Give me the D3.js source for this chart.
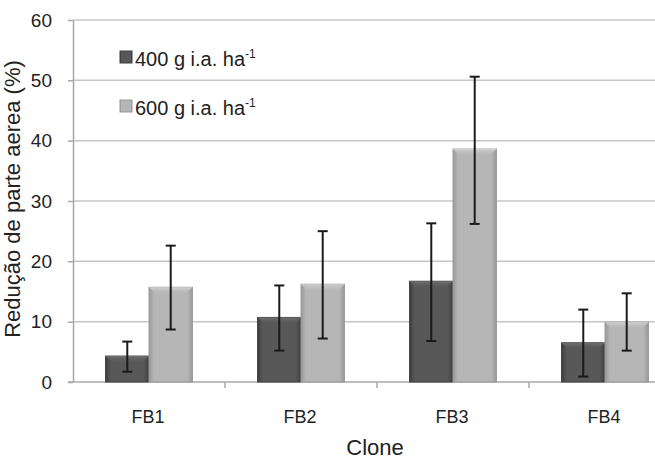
<!DOCTYPE html>
<html lang="pt">
    <head>
        <meta charset="utf-8">
        <title>Redução de parte aérea</title>
        <script src="https://d3js.org/d3.v7.min.js"></script>
        <style type="text/css">
            body { margin: 0; background: #fff; }
            text { font-family: Arial, "Liberation Sans", sans-serif; fill: #222; }
        </style>
    </head>
    <body>
        <script>
            // data
            var clones = ["FB1", "FB2", "FB3", "FB4"];
            var doses = ["400", "600"];
            var doseLabels = ["400 g i.a. ha", "600 g i.a. ha"];
            var mean400 = [4.3, 10.7, 16.7, 6.5];
            var mean600 = [15.7, 16.2, 38.6, 9.9];
            var low400 = [1.7, 5.2, 6.8, 0.9];
            var high400 = [6.7, 16.0, 26.3, 12.0];
            var low600 = [8.7, 7.2, 26.2, 5.2];
            var high600 = [22.6, 25.0, 50.6, 14.7];
            var yTicks = [0, 10, 20, 30, 40, 50, 60];

            // configuration
            var outerWidth = 655;
            var outerHeight = 458;
            var margin = { left: 73, top: 20, right: -26, bottom: 76 };
            var innerWidth = outerWidth - margin.left - margin.right;
            var innerHeight = outerHeight - margin.top - margin.bottom;

            var svg = d3.select("body").append("svg")
                .attr("width", outerWidth)
                .attr("height", outerHeight);

            var defs = svg.append("defs");
            var colors = { "400": ["#3e3e3e", "#585858", "#707070"], "600": ["#999999", "#b6b6b6", "#d2d2d2"] };
            doses.forEach(function (d) {
                var c = colors[d];
                var gh = defs.append("linearGradient").attr("id", "h" + d)
                    .attr("x1", 0).attr("x2", 1).attr("y1", 0).attr("y2", 0);
                gh.append("stop").attr("offset", "0").attr("stop-color", c[0]);
                gh.append("stop").attr("offset", "0.12").attr("stop-color", c[1]);
                gh.append("stop").attr("offset", "0.88").attr("stop-color", c[1]);
                gh.append("stop").attr("offset", "1").attr("stop-color", c[0]);
                var gv = defs.append("linearGradient").attr("id", "v" + d)
                    .attr("x1", 0).attr("x2", 0).attr("y1", 0).attr("y2", 1);
                gv.append("stop").attr("offset", "0").attr("stop-color", c[2]);
                gv.append("stop").attr("offset", "1").attr("stop-color", c[1]).attr("stop-opacity", 0);
            });

            var g = svg.append("g")
                .attr("transform", "translate(" + margin.left + "," + margin.top + ")");

            var xScale = d3.scaleBand().domain(clones).range([0, innerWidth]).padding(0);
            var x1 = d3.scaleBand().domain(doses).range([0, xScale.step()]).paddingInner(0).paddingOuter(0.75);
            var yScale = d3.scaleLinear().domain([0, 60]).range([innerHeight, 0]);

            // gridlines
            g.selectAll(".grid").data(yTicks.slice(1)).enter().append("line")
                .attr("x1", 0).attr("x2", innerWidth)
                .attr("y1", function (d) { return yScale(d); })
                .attr("y2", function (d) { return yScale(d); })
                .attr("stroke", "#c6c6c6").attr("stroke-width", 1.5);

            // y axis
            var yAxis = g.append("g")
                .call(d3.axisLeft(yScale).tickValues(yTicks).tickSize(5).tickSizeOuter(0).tickPadding(16));
            yAxis.select(".domain").attr("stroke", "#a8a8a8").attr("stroke-width", 1.5);
            yAxis.selectAll(".tick line").attr("stroke", "#a8a8a8").attr("stroke-width", 1.5);
            yAxis.selectAll(".tick text").attr("font-size", 19).attr("font-family", "Arial, 'Liberation Sans', sans-serif").attr("fill", "#222");

            // x axis
            var xAxis = g.append("g").attr("transform", "translate(0," + innerHeight + ")");
            xAxis.append("line").attr("x1", -5).attr("x2", innerWidth)
                .attr("stroke", "#a8a8a8").attr("stroke-width", 1.5);
            xAxis.selectAll(".xt").data(clones.slice(1)).enter().append("line")
                .attr("x1", function (d) { return xScale(d); })
                .attr("x2", function (d) { return xScale(d); })
                .attr("y1", 0).attr("y2", 6)
                .attr("stroke", "#a8a8a8").attr("stroke-width", 1.5);
            xAxis.selectAll(".xl").data(clones).enter().append("text")
                .attr("x", function (d) { return xScale(d) + xScale.step() / 2 - 1; })
                .attr("y", 41)
                .attr("text-anchor", "middle")
                .attr("font-size", 18)
                .text(function (d) { return d; });

            // bars
            var rows = [];
            clones.forEach(function (c, i) {
                rows.push({ clone: c, dose: "400", v: mean400[i], lo: low400[i], hi: high400[i] });
                rows.push({ clone: c, dose: "600", v: mean600[i], lo: low600[i], hi: high600[i] });
            });

            var bw = x1.bandwidth();
            var bars = g.selectAll(".bar").data(rows).enter().append("g")
                .attr("transform", function (d) { return "translate(" + (xScale(d.clone) + x1(d.dose)) + ",0)"; });

            bars.append("rect")
                .attr("y", function (d) { return yScale(d.v); })
                .attr("width", bw)
                .attr("height", function (d) { return innerHeight - yScale(d.v); })
                .attr("fill", function (d) { return "url(#h" + d.dose + ")"; })
                .attr("stroke", function (d) { return colors[d.dose][0]; })
                .attr("stroke-width", 1);

            bars.append("path")
                .attr("d", function (d) {
                    var t = yScale(d.v), b = 7;
                    return "M0," + t + "L" + bw + "," + t + "L" + (bw - b) + "," + (t + b) + "L" + b + "," + (t + b) + "Z";
                })
                .attr("fill", function (d) { return "url(#v" + d.dose + ")"; });

            // error bars
            var err = bars.append("g").attr("stroke", "#1a1a1a").attr("stroke-width", 2);
            err.append("line")
                .attr("x1", bw / 2).attr("x2", bw / 2)
                .attr("y1", function (d) { return yScale(d.hi); })
                .attr("y2", function (d) { return yScale(d.lo); });
            err.append("line")
                .attr("x1", bw / 2 - 5).attr("x2", bw / 2 + 5)
                .attr("y1", function (d) { return yScale(d.hi); })
                .attr("y2", function (d) { return yScale(d.hi); });
            err.append("line")
                .attr("x1", bw / 2 - 5).attr("x2", bw / 2 + 5)
                .attr("y1", function (d) { return yScale(d.lo); })
                .attr("y2", function (d) { return yScale(d.lo); });

            // legend
            var legend = svg.selectAll(".legend").data(doses).enter().append("g")
                .attr("transform", function (d, i) { return "translate(120," + (51 + i * 49) + ")"; });
            legend.append("rect")
                .attr("width", 12).attr("height", 12)
                .attr("fill", function (d) { return "url(#h" + d + ")"; })
                .attr("stroke", function (d) { return colors[d][0]; });
            var lt = legend.append("text")
                .attr("x", 15).attr("y", 15)
                .attr("font-size", 20);
            lt.append("tspan").text(function (d, i) { return doseLabels[i]; });
            lt.append("tspan").attr("dy", -8).attr("font-size", 12).text("-1");

            // axis titles
            svg.append("text")
                .attr("transform", "translate(20," + (margin.top + innerHeight / 2 - 2) + ") rotate(-90)")
                .attr("text-anchor", "middle")
                .attr("font-size", 22)
                .text("Redução de parte aerea (%)");
            svg.append("text")
                .attr("x", 375).attr("y", 455)
                .attr("text-anchor", "middle")
                .attr("font-size", 22)
                .text("Clone");
        </script>
    </body>
</html>
